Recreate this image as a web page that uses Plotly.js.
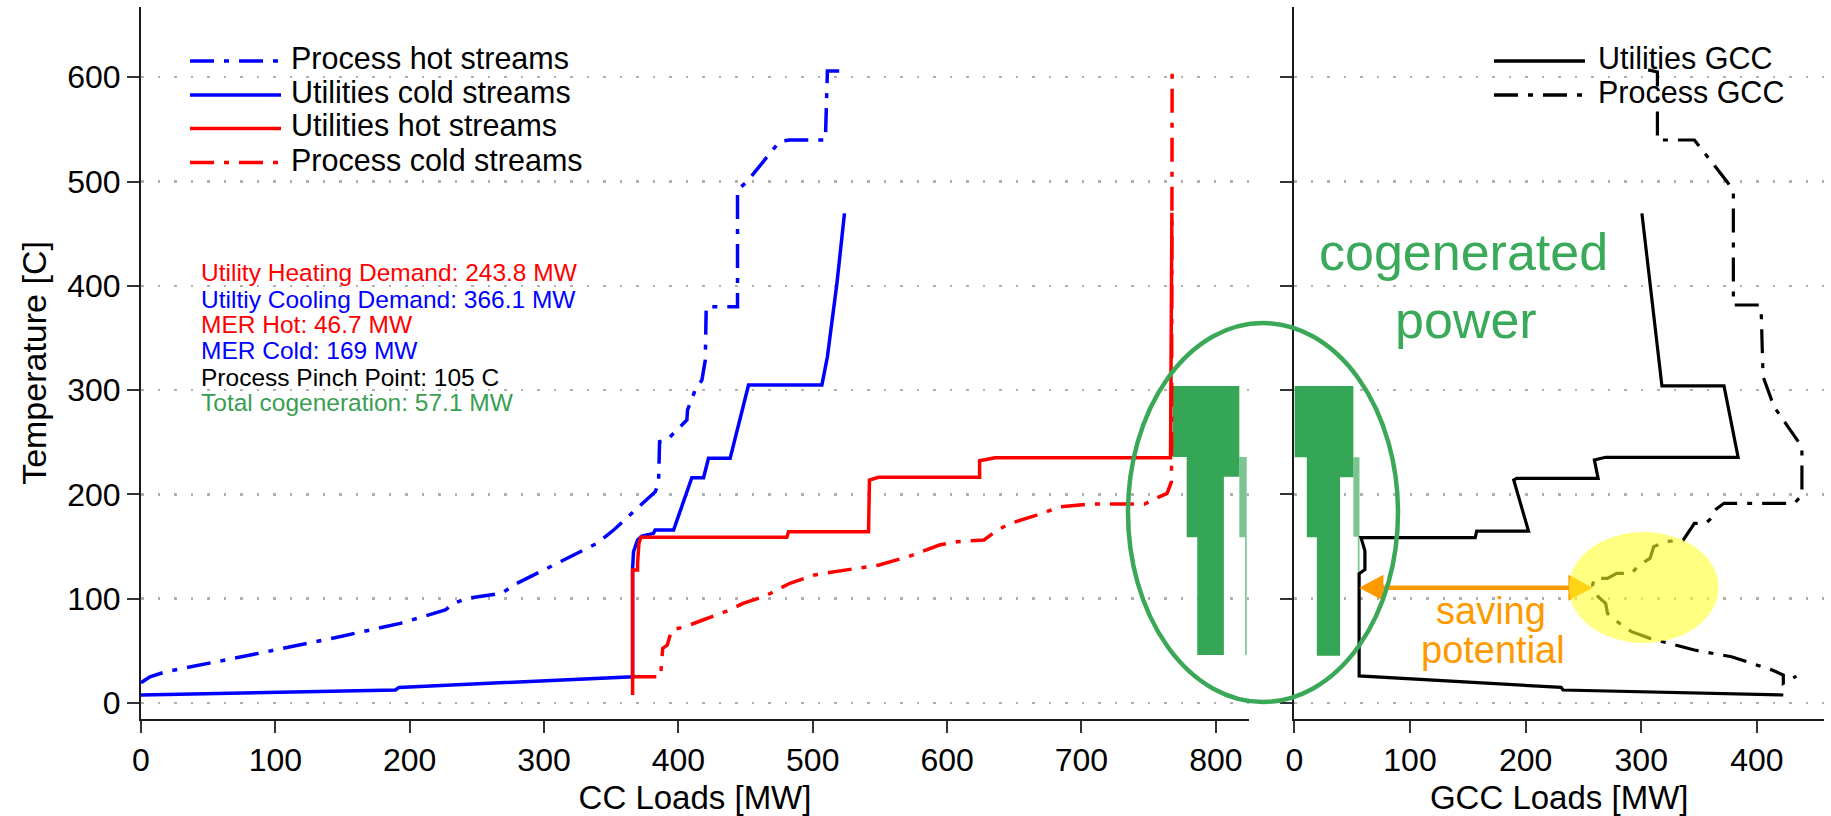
<!DOCTYPE html>
<html>
<head>
<meta charset="utf-8">
<script src="https://cdn.plot.ly/plotly-3.0.1.min.js"></script>
<style>
  html, body { margin: 0; padding: 0; background: #ffffff; }
  #chart { width: 1831px; height: 816px; }
</style>
</head>
<body>
<div id="chart"></div>
<script>
// ---------------- Data ----------------
// Composite curves (left panel): load [MW] vs temperature [C]
const processHotX = [0, 6.7, 18.3, 41.5, 81.4, 147.8, 193, 226.5, 232.7, 242.6, 268.7, 277.3, 339.4, 351.8, 374.1, 382.8, 385.2, 386, 391.5, 406.3, 406.8, 412.5, 417.5, 420, 420.7, 444, 444, 451, 475.2, 482.4, 509.4, 510.9, 523.6];
const processHotY = [19.5, 25.2, 30, 35.8, 46, 63.6, 76.4, 89.2, 95.6, 100.4, 105.2, 113.1, 153.1, 165.9, 191.5, 202.6, 210.6, 250.5, 252.2, 271.3, 281, 300, 309.7, 328.9, 380, 380, 491.8, 499.8, 538.2, 539.8, 539.8, 606, 606];

const utilColdX = [0, 189.4, 192, 365.9, 365.9, 366.6, 369.6, 372.8, 381.5, 382.7, 396.4, 410, 418.7, 422.4, 438.5, 452.2, 506.8, 510.9, 518, 523.6];
const utilColdY = [7.7, 12.5, 15, 25.2, 129.1, 145, 156.3, 160.1, 162.7, 165.9, 165.9, 216, 216, 234.6, 234.6, 304.9, 304.9, 332, 402.4, 469.5];

const utilHotX = [365.9, 365.9, 369.6, 369.6, 370.6, 372.1, 480.7, 482, 541.5, 542.2, 548.9, 624.2, 624.2, 635.7, 766.3, 767.3];
const utilHotY = [7.7, 127.5, 127.5, 134, 153, 158.9, 158.9, 164.3, 164.3, 213.8, 216.4, 216.4, 232.3, 235.2, 235.2, 470];

const processColdX = [365.7, 386.7, 388.3, 391.7, 395, 404.9, 418.2, 438.2, 448.1, 464.7, 483, 501.2, 511.2, 537.8, 549.4, 571, 581, 594.3, 607.5, 627.5, 637.4, 647.4, 670.7, 684, 707.2, 747, 755.4, 763.7, 767, 767.5];
const processColdY = [25.2, 25.2, 52.4, 55.6, 70, 73.2, 79.6, 89.2, 95.6, 102.6, 114.8, 122.7, 125, 129.7, 132.3, 140.3, 145.1, 151.5, 154.7, 156.3, 165.9, 172.3, 181.9, 188.2, 190.8, 190.8, 196.3, 201, 212.2, 606];

// Cogeneration areas (left: placed after hot utilities, right: GCC)
const cogenCcX = [767.9, 817.5, 817.5, 806, 806, 786.2, 786.2, 778.3, 778.3, 767.9];
const cogenCcY = [304, 304, 217, 217, 46, 46, 159, 159, 236, 236];
const cogenCcStripX = [817.5, 823, 823, 821.8, 821.8, 817.5];
const cogenCcStripY = [236, 236, 46, 46, 159, 159];

const cogenGccX = [0, 51, 51, 39.5, 39.5, 19.4, 19.4, 10.7, 10.7, 0];
const cogenGccY = [304, 304, 216.4, 216.4, 45.4, 45.4, 159, 159, 235.6, 235.6];
const cogenGccStripX = [51, 56.3, 56.3, 54.8, 54.8, 51];
const cogenGccStripY = [235.6, 235.6, 45.4, 45.4, 159.5, 159.5];

// Grand composite curves (right panel)
const utilGccX = [300.6, 307.6, 314, 317.9, 371.6, 383.8, 269.2, 259.5, 262.7, 192.3, 189.7, 202.5, 157.7, 156.4, 57.6, 61, 61, 56, 56, 230.7, 232.3, 422.9];
const utilGccY = [469.5, 402.4, 335.3, 304, 304, 235.6, 235.6, 233, 215.4, 215.4, 213.8, 164.9, 164.9, 158.5, 158.5, 146, 128, 124, 26, 15, 12.5, 7.7];

const processGccX = [306, 314, 314, 346, 374.9, 379.7, 379.7, 402.2, 403.8, 405.4, 414.9, 434.2, 439, 439, 432.5, 371.6, 363.7, 360.5, 355.7, 346, 336.4, 320.4, 310.8, 307.6, 298, 291.6, 278.8, 270.8, 259.5, 257.9, 262.7, 269.2, 270.8, 277.2, 285.2, 291.6, 307.6, 346, 378.1, 413.3, 422.9, 422.9, 434.2];
const processGccY = [607, 605, 539.8, 539.8, 498.9, 490.2, 381.6, 381.6, 374.2, 312.9, 284, 253.8, 245.7, 199.4, 191.5, 191.5, 185, 177, 172.3, 172.3, 156.3, 154.7, 149.9, 138.7, 132.3, 124.3, 124.3, 119.5, 119.5, 113.1, 101.9, 95.6, 86, 79.6, 73.2, 68.4, 62, 50.8, 44.4, 31.6, 26.8, 18.9, 25.9];

// Tick values
const ccTicks = [0, 100, 200, 300, 400, 500, 600, 700, 800];
const gccTicks = [0, 100, 200, 300, 400];
const tempTicks = [0, 100, 200, 300, 400, 500, 600];

// Text
const infoLines = [
  {text: 'Utility Heating Demand: 243.8 MW', color: '#ff0000'},
  {text: 'Utiltiy Cooling Demand: 366.1 MW', color: '#0000ff'},
  {text: 'MER Hot: 46.7 MW', color: '#ff0000'},
  {text: 'MER Cold: 169 MW', color: '#0000ff'},
  {text: 'Process Pinch Point: 105 C', color: '#000000'},
  {text: 'Total cogeneration: 57.1 MW', color: '#3a9e52'}
];
const ccLegend = [
  {name: 'Process hot streams', color: '#0000ff', dash: 'dashdot'},
  {name: 'Utilities cold streams', color: '#0000ff', dash: 'solid'},
  {name: 'Utilities hot streams', color: '#ff0000', dash: 'solid'},
  {name: 'Process cold streams', color: '#ff0000', dash: 'dashdot'}
];
const gccLegend = [
  {name: 'Utilities GCC', color: '#000000', dash: 'solid'},
  {name: 'Process GCC', color: '#000000', dash: 'dashdot'}
];

// ---------------- Styling ----------------
const FONT = 'Liberation Sans, Arial, Helvetica, sans-serif';
const DASHDOT = '24px,10px,5px,10px';
const GREEN = '#34a655';
const ORANGE = '#ff9900';
const LW = 3.5;

function dashOf(d) { return d === 'dashdot' ? DASHDOT : 'solid'; }

const traces = [
  {x: cogenCcX, y: cogenCcY, xaxis: 'x', yaxis: 'y', mode: 'lines', fill: 'toself',
   fillcolor: GREEN, line: {width: 0, color: GREEN}, hoverinfo: 'skip', name: 'cogeneration CC'},
  {x: cogenCcStripX, y: cogenCcStripY, xaxis: 'x', yaxis: 'y', mode: 'lines', fill: 'toself',
   fillcolor: 'rgba(52,166,85,0.65)', line: {width: 0, color: GREEN}, hoverinfo: 'skip', name: 'cogeneration CC strip'},
  {x: cogenGccX, y: cogenGccY, xaxis: 'x2', yaxis: 'y2', mode: 'lines', fill: 'toself',
   fillcolor: GREEN, line: {width: 0, color: GREEN}, hoverinfo: 'skip', name: 'cogeneration GCC'},
  {x: cogenGccStripX, y: cogenGccStripY, xaxis: 'x2', yaxis: 'y2', mode: 'lines', fill: 'toself',
   fillcolor: 'rgba(52,166,85,0.65)', line: {width: 0, color: GREEN}, hoverinfo: 'skip', name: 'cogeneration GCC strip'},

  {x: processHotX, y: processHotY, xaxis: 'x', yaxis: 'y', mode: 'lines', name: ccLegend[0].name,
   line: {color: ccLegend[0].color, width: LW, dash: dashOf(ccLegend[0].dash)}},
  {x: utilColdX, y: utilColdY, xaxis: 'x', yaxis: 'y', mode: 'lines', name: ccLegend[1].name,
   line: {color: ccLegend[1].color, width: LW, dash: dashOf(ccLegend[1].dash)}},
  {x: processColdX, y: processColdY, xaxis: 'x', yaxis: 'y', mode: 'lines', name: ccLegend[3].name,
   line: {color: ccLegend[3].color, width: LW, dash: dashOf(ccLegend[3].dash)}},
  {x: utilHotX, y: utilHotY, xaxis: 'x', yaxis: 'y', mode: 'lines', name: ccLegend[2].name,
   line: {color: ccLegend[2].color, width: LW, dash: dashOf(ccLegend[2].dash)}},

  {x: utilGccX, y: utilGccY, xaxis: 'x2', yaxis: 'y2', mode: 'lines', name: gccLegend[0].name,
   line: {color: gccLegend[0].color, width: 3.2, dash: dashOf(gccLegend[0].dash)}},
  {x: processGccX, y: processGccY, xaxis: 'x2', yaxis: 'y2', mode: 'lines', name: gccLegend[1].name,
   line: {color: gccLegend[1].color, width: 3.2, dash: dashOf(gccLegend[1].dash)}}
];

// ---------------- Geometry (pixel layout of the figure) ----------------
const W = 1831, H = 816;
const M = {l: 141, r: 7, t: 7, b: 97};
const PW = W - M.l - M.r, PH = H - M.t - M.b;
function px2paperX(px) { return (px - M.l) / PW; }
function px2paperY(py) { return (H - M.b - py) / PH; }

const yRange = [-15.3, 667.3];
const axisCommon = {
  showline: true, linecolor: '#1a1a1a', linewidth: 2,
  ticks: 'outside', ticklen: 12, tickwidth: 2, tickcolor: '#333333',
  zeroline: false, tickfont: {family: FONT, size: 32, color: '#000000'}
};
const gridCommon = {showgrid: true, gridcolor: '#b0b0b0', gridwidth: 2.5, griddash: '2.5px,14px'};

const shapes = [];
const annotations = [];

// manual legends (long line samples as in the reference)
function addLegend(items, x0px, x1px, textPx, rowsPx) {
  items.forEach((it, i) => {
    const yp = px2paperY(rowsPx[i]);
    shapes.push({type: 'line', xref: 'paper', yref: 'paper', x0: px2paperX(x0px), x1: px2paperX(x1px),
      y0: yp, y1: yp, line: {color: it.color, width: 3.5, dash: dashOf(it.dash)}, layer: 'above'});
    annotations.push({xref: 'paper', yref: 'paper', x: px2paperX(textPx), y: px2paperY(rowsPx[i] - 3),
      xanchor: 'left', yanchor: 'middle', showarrow: false, text: it.name,
      font: {family: FONT, size: 30.5, color: '#000000'}});
  });
}
addLegend(ccLegend, 190, 281, 289, [61, 95, 128.5, 162.5]);
addLegend(gccLegend, 1494, 1585, 1596, [61, 95]);

// info text block
const infoRows = [272.5, 299, 324.5, 350.5, 377.5, 402.5];
infoLines.forEach((ln, i) => {
  annotations.push({xref: 'paper', yref: 'paper', x: px2paperX(199), y: px2paperY(infoRows[i]),
    xanchor: 'left', yanchor: 'middle', showarrow: false, text: ln.text,
    font: {family: FONT, size: 24.5, color: ln.color}});
});

// "cogenerated power"
annotations.push({xref: 'x2', yref: 'y2', x: 146, y: 432.5, xanchor: 'center', yanchor: 'middle',
  showarrow: false, text: 'cogenerated', font: {family: FONT, size: 52, color: '#3aaa5a'}});
annotations.push({xref: 'x2', yref: 'y2', x: 148, y: 367.5, xanchor: 'center', yanchor: 'middle',
  showarrow: false, text: 'power', font: {family: FONT, size: 52, color: '#3aaa5a'}});

// "saving potential"
annotations.push({xref: 'x2', yref: 'y2', x: 170, y: 88.5, xanchor: 'center', yanchor: 'middle',
  showarrow: false, text: 'saving', font: {family: FONT, size: 38, color: ORANGE}});
annotations.push({xref: 'x2', yref: 'y2', x: 171.5, y: 50.5, xanchor: 'center', yanchor: 'middle',
  showarrow: false, text: 'potential', font: {family: FONT, size: 38, color: ORANGE}});

// saving potential double arrow (between utilities GCC and process GCC)
const arrowY = 110.5, arrowL = 56, arrowR = 258, headLen = 21, headHalf = 12.5;
shapes.push({type: 'line', xref: 'x2', yref: 'y2', x0: arrowL + headLen - 1, x1: arrowR - headLen + 1,
  y0: arrowY, y1: arrowY, line: {color: ORANGE, width: 4.5}, layer: 'above'});
shapes.push({type: 'path', xref: 'x2', yref: 'y2', layer: 'above', fillcolor: ORANGE, line: {width: 0},
  path: `M${arrowL},${arrowY} L${arrowL + headLen},${arrowY + headHalf} L${arrowL + headLen},${arrowY - headHalf} Z`});
shapes.push({type: 'path', xref: 'x2', yref: 'y2', layer: 'above', fillcolor: ORANGE, line: {width: 0},
  path: `M${arrowR},${arrowY} L${arrowR - headLen},${arrowY + headHalf} L${arrowR - headLen},${arrowY - headHalf} Z`});

// yellow highlight ellipse over the process GCC pinch region
shapes.push({type: 'circle', xref: 'x2', yref: 'y2', x0: 237.5, x1: 366.9, y0: 57.5, y1: 164,
  fillcolor: 'rgba(255,255,40,0.58)', line: {width: 0}, layer: 'above'});

// green ellipse around the cogeneration areas
shapes.push({type: 'circle', xref: 'paper', yref: 'paper',
  x0: px2paperX(1128), x1: px2paperX(1398), y0: px2paperY(702), y1: px2paperY(323),
  line: {color: '#3aa857', width: 4.5}, fillcolor: 'rgba(0,0,0,0)', layer: 'above'});

const leftEnd = 1249, rightStart = 1294.4;

const layout = {
  width: W, height: H,
  margin: M,
  paper_bgcolor: '#ffffff', plot_bgcolor: '#ffffff',
  showlegend: false,
  font: {family: FONT, color: '#000000'},
  xaxis: Object.assign({}, axisCommon, {
    domain: [0, px2paperX(leftEnd)], range: [0, 824.7], anchor: 'y',
    tickvals: ccTicks, ticktext: ccTicks.map(String), showgrid: false,
    title: {text: 'CC Loads [MW]', font: {family: FONT, size: 33, color: '#000000'}, standoff: 14}
  }),
  xaxis2: Object.assign({}, axisCommon, {
    domain: [px2paperX(rightStart), 1], range: [0, 458.1], anchor: 'y2',
    tickvals: gccTicks, ticktext: gccTicks.map(String), showgrid: false,
    title: {text: 'GCC Loads [MW]', font: {family: FONT, size: 33, color: '#000000'}, standoff: 14}
  }),
  yaxis: Object.assign({}, axisCommon, gridCommon, {
    domain: [0, 1], range: yRange, anchor: 'x',
    tickvals: tempTicks, ticktext: tempTicks.map(String),
    title: {text: 'Temperature [C]', font: {family: FONT, size: 34, color: '#000000'}, standoff: 10}
  }),
  yaxis2: Object.assign({}, axisCommon, gridCommon, {
    domain: [0, 1], range: yRange, anchor: 'x2',
    tickvals: tempTicks, showticklabels: false
  }),
  shapes: shapes,
  annotations: annotations
};

Plotly.newPlot('chart', traces, layout, {displayModeBar: false, staticPlot: true});
</script>
</body>
</html>
